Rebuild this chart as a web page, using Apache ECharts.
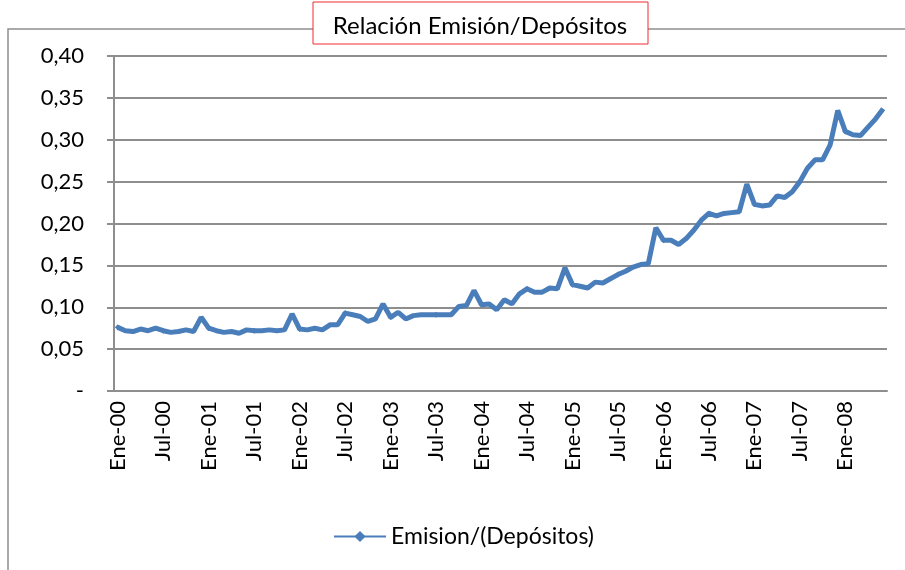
<!DOCTYPE html>
<html>
<head>
<meta charset="utf-8">
<title>Relación Emisión/Depósitos</title>
<script src="https://cdn.jsdelivr.net/npm/echarts@6/dist/echarts.min.js"></script>
<style>
  html, body { margin: 0; padding: 0; background: #fff; }
  #chart { width: 905px; height: 570px; }
</style>
</head>
<body>
<div id="chart"></div>
<script>
// meses y años del eje (Ene-00 .. Jun-08)
const monthNames = ['Ene', 'Feb', 'Mar', 'Abr', 'May', 'Jun', 'Jul', 'Ago', 'Sep', 'Oct', 'Nov', 'Dic']
const years = ['00', '01', '02', '03', '04', '05', '06', '07', '08']
const lastYearMonths = 6

// Emision/(Depósitos), mensual
const emision = [
  0.076, 0.072, 0.071, 0.074, 0.072, 0.075, 0.072, 0.070, 0.071, 0.073, 0.071, 0.088,
  0.075, 0.072, 0.070, 0.071, 0.069, 0.073, 0.072, 0.072, 0.073, 0.072, 0.073, 0.092,
  0.074, 0.073, 0.075, 0.073, 0.079, 0.079, 0.093, 0.091, 0.089, 0.083, 0.086, 0.104,
  0.088, 0.094, 0.086, 0.090, 0.091, 0.091, 0.091, 0.091, 0.091, 0.101, 0.102, 0.120,
  0.103, 0.104, 0.097, 0.109, 0.104, 0.116, 0.122, 0.118, 0.118, 0.123, 0.122, 0.147,
  0.127, 0.125, 0.123, 0.130, 0.129, 0.134, 0.139, 0.143, 0.148, 0.151, 0.152, 0.195,
  0.180, 0.180, 0.175, 0.182, 0.192, 0.204, 0.212, 0.209, 0.212, 0.213, 0.214, 0.247,
  0.223, 0.221, 0.222, 0.233, 0.231, 0.238, 0.250, 0.266, 0.276, 0.276, 0.294, 0.335,
  0.310, 0.306, 0.305, 0.315, 0.325, 0.337
]

const categories = []
years.forEach((yy, k) => {
  const n = k === years.length - 1 ? lastYearMonths : 12
  for (let m = 0; m < n; m++) categories.push(monthNames[m] + '-' + yy)
})

const FONT = 'Lato, "Liberation Sans", sans-serif'
const BLUE = '#4a7ebb'
const GRAY = '#8e8e8e'

const chart = echarts.init(document.getElementById('chart'))
chart.setOption({
  animation: false,
  backgroundColor: '#fff',
  graphic: [
    {
      type: 'rect',
      z: 0,
      silent: true,
      shape: { x: 8, y: 29, width: 1000, height: 700 },
      style: { fill: 'none', stroke: GRAY, lineWidth: 1.5 }
    },
    {
      type: 'group',
      z: 10,
      children: [
        {
          type: 'rect',
          shape: { x: 313, y: 2, width: 335, height: 42 },
          style: { fill: '#fff', stroke: '#ee2a33', lineWidth: 1 }
        },
        {
          type: 'text',
          x: 480,
          y: 26,
          style: {
            text: 'Relación Emisión/Depósitos',
            font: '24px ' + FONT,
            fill: '#000',
            align: 'center',
            verticalAlign: 'middle'
          }
        }
      ]
    }
  ],
  legend: {
    left: 333,
    top: 525,
    padding: 0,
    itemWidth: 52,
    itemHeight: 14,
    textStyle: { fontFamily: FONT, fontSize: 23, color: '#000' },
    data: ['Emision/(Depósitos)']
  },
  grid: {
    left: 114,
    right: 18,
    top: 56,
    bottom: 179
  },
  xAxis: {
    type: 'category',
    boundaryGap: true,
    data: categories,
    axisLine: { lineStyle: { color: GRAY, width: 2 } },
    axisTick: { interval: 5, length: 7, lineStyle: { color: GRAY, width: 2 } },
    axisLabel: {
      interval: 5,
      rotate: 90,
      margin: 10,
      padding: [7, 0, 0, 0],
      fontFamily: FONT,
      fontSize: 22,
      color: '#000'
    },
    splitLine: { show: false }
  },
  yAxis: {
    type: 'value',
    min: 0,
    max: 0.4,
    interval: 0.05,
    axisLine: { show: true, lineStyle: { color: GRAY, width: 2 } },
    axisTick: { show: true, length: 7, lineStyle: { color: GRAY, width: 2 } },
    axisLabel: {
      margin: 30,
      fontFamily: FONT,
      fontSize: 22,
      color: '#000',
      formatter: (v) => (v === 0 ? '-' : v.toFixed(2).replace('.', ','))
    },
    splitLine: { lineStyle: { color: GRAY, width: 2 } }
  },
  series: [
    {
      name: 'Emision/(Depósitos)',
      type: 'line',
      data: emision,
      symbol: 'diamond',
      symbolSize: 6,
      showSymbol: true,
      lineStyle: { color: BLUE, width: 5 },
      itemStyle: { color: BLUE }
    }
  ]
})
</script>
</body>
</html>
